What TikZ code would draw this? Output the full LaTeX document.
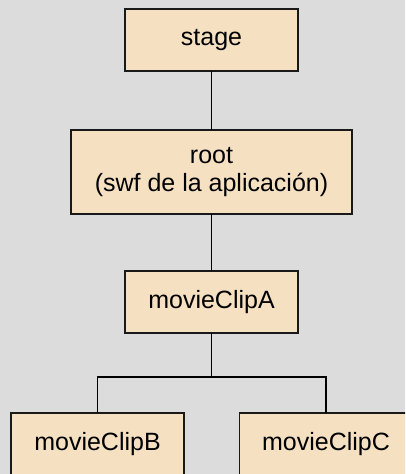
\documentclass[tikz,border=0pt]{standalone}
\usepackage{fontspec}
\setmainfont{Liberation Sans}
\definecolor{bgc}{HTML}{DCDCDC}
\definecolor{boxc}{HTML}{F5E1C2}
\begin{document}
\begin{tikzpicture}[x=1pt,y=-1pt,
  box/.style={draw=black!90,line width=1.4pt,fill=boxc,minimum width=173pt,minimum height=62pt,inner sep=0pt,outer sep=0pt,align=center,font=\fontsize{25}{28}\selectfont},
  link/.style={line width=1.5pt,black}]
\fill[bgc] (0,0) rectangle (405,474);
\useasboundingbox (0,0) rectangle (405,474);
\clip (0,0) rectangle (405,474);
\node[box] (stage) at (211.5,40) {stage};
\node[box,minimum width=281pt,minimum height=84pt] (root) at (211.5,172) {root\\(swf de la aplicación)};
\node[box] (A) at (211.5,302) {movieClipA};
\node[box] (B) at (97.5,444) {movieClipB};
\node[box] (C) at (326,444) {movieClipC};
\coordinate (j) at (211.5,377);
\draw[link] (stage) -- (root);
\draw[link] (root) -- (A);
\draw[link] (A) -- (j);
\draw[link] (j) -| (B);
\draw[link] (j) -| (C);
\end{tikzpicture}
\end{document}
